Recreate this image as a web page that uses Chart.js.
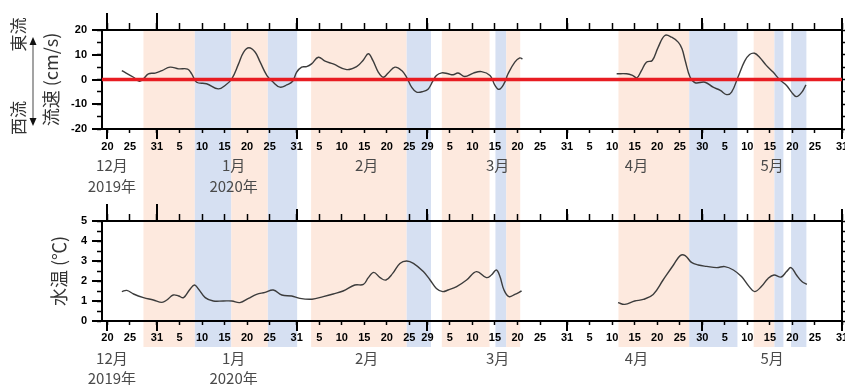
<!DOCTYPE html>
<html><head><meta charset="utf-8">
<script src="https://cdn.jsdelivr.net/npm/chart.js@4.4.1/dist/chart.umd.min.js"></script>
<style>
html,body{margin:0;padding:0;background:#fff;}
#wrap{position:relative;width:845px;height:385px;overflow:hidden;background:#fff;}
canvas{position:absolute;left:0;top:0;}
</style></head><body>
<div id="wrap"><canvas id="c1" width="845" height="385"></canvas><canvas id="c2" width="845" height="385"></canvas></div>
<script>
// x values are days counted from 2019-12-20 (day 0)
const xMin = -1.2, xMax = 163;
const tickDays   = [0,5,11,16,21,26,31,36,42,47,52,57,62,67,71,76,81,86,91,96,102,107,112,117,122,127,132,137,142,147,152,157,163];
const tickLabels = ["20","25","31","5","10","15","20","25","31","5","10","15","20","25","29","5","10","15","20","25","31","5","10","15","20","25","30","5","10","15","20","25","31"];
const monthEndDays = [0,11,42,71,102,132,163];
const monthLabelDays = [1,28,57.5,86.6,117.4,147.5];
const monthLabels = ["12月","1月","2月","3月","4月","5月"];
const yearLabels  = ["2019年","2020年","","","",""];

// shaded periods: o = warm (orange), b = cold (blue)
const bandStarts = [8.0,19.4,27.5,35.6,45.2,66.4,74.2,86.1,88.5,113.4,129.1,143.4,148.0,151.7];
const bandEnds   = [19.4,27.5,35.6,42.1,66.4,71.8,84.8,88.5,91.6,129.1,139.8,148.0,150.0,155.1];
const bandTypes  = ["o","b","o","b","o","b","o","b","o","o","b","o","b","b"];

// current velocity (cm/s)
const currentDays = [3.2,5.8,7.1,8.0,9.1,10.6,12.1,13.9,15.8,17.8,18.7,19.8,22.0,24.6,26.1,27.6,29.1,30.2,31.4,32.8,33.9,35.4,36.8,38.3,39.8,41.1,42.0,43.1,44.2,45.3,46.8,48.3,50.1,53.1,55.3,56.8,57.9,58.9,60.1,61.2,62.3,63.8,65.3,66.4,67.5,68.6,70.1,71.2,72.2,73.0,74.2,75.6,76.7,77.8,79.3,81.2,83.0,84.9,86.0,86.9,88.0,88.9,90.4,91.5,92.1,
  100,
  113.0,115.2,116.6,117.5,118.5,119.6,120.9,122.2,123.7,125.2,126.7,127.5,128.2,129.3,130.4,132.6,134.4,136.0,137.4,138.5,139.9,141.4,142.5,143.6,144.7,146.2,147.7,149.2,150.7,151.8,152.9,154.1,155.0];
const currentValues = [3.6,0.9,-0.7,0.3,2.3,2.6,3.6,5.0,4.3,4.2,2.3,-1.1,-1.7,-3.8,-2.4,0.3,6.3,11.0,12.8,11.0,7.0,1.6,-1.1,-3.1,-2.2,-0.7,3.0,5.0,5.2,6.3,9.0,7.4,6.3,4.0,5.2,7.9,10.4,7.7,3.0,0.9,2.6,5.0,3.6,0.9,-3.1,-5.1,-4.8,-3.8,-0.7,1.6,2.7,2.3,1.9,2.6,1.2,2.6,3.2,1.6,-2.4,-4.0,-1.7,2.3,7.0,8.7,8.3,
  null,
  2.3,2.3,1.6,0.7,3.6,7.0,7.7,13.0,17.8,17.1,15.0,12.4,7.7,0.9,-1.3,-1.1,-3.1,-4.4,-6.1,-5.1,0.9,7.4,10.1,10.6,9.0,5.7,3.0,-0.1,-2.4,-5.1,-6.9,-5.1,-2.2];

// water temperature (°C)
const tempDays = [3.2,4.3,5.8,8.0,10.2,12.1,13.2,14.6,15.8,16.9,18.2,19.3,20.2,21.7,23.5,25.7,27.6,29.4,31.3,33.1,35.0,36.8,38.7,40.9,42.7,45.4,47.9,50.1,52.3,54.9,56.8,57.9,59.1,60.5,61.8,63.3,64.9,66.4,67.9,70.1,71.6,73.0,74.4,75.6,77.5,79.7,81.9,84.1,85.2,86.3,87.1,88.0,89.1,90.4,91.9,
  100,
  113.3,114.8,117.0,118.9,121.1,123.3,125.6,127.1,128.2,129.6,131.1,133.0,135.2,137.0,138.9,140.7,142.4,143.6,145.1,146.6,147.9,149.5,150.7,151.7,152.9,154.1,155.2];
const tempValues = [1.47,1.53,1.35,1.17,1.05,0.93,1.05,1.30,1.25,1.17,1.55,1.80,1.60,1.17,1.00,1.00,1.00,0.92,1.13,1.33,1.43,1.55,1.30,1.25,1.13,1.09,1.22,1.35,1.50,1.80,1.83,2.17,2.43,2.17,2.05,2.38,2.88,3.00,2.88,2.47,2.05,1.63,1.47,1.55,1.72,2.05,2.47,2.17,2.30,2.55,2.22,1.55,1.22,1.33,1.50,
  null,
  0.92,0.83,1.00,1.08,1.33,2.05,2.80,3.27,3.27,2.93,2.80,2.73,2.67,2.72,2.55,2.22,1.72,1.47,1.72,2.13,2.30,2.20,2.47,2.67,2.30,1.97,1.83];

const currentTicks = [-20,-15,-10,-5,0,5,10,15,20];
const currentMajor = [-20,-10,0,10,20];
const tempTicks = [0,0.5,1,1.5,2,2.5,3,3.5,4,4.5,5];
const tempMajor = [0,1,2,3,4,5];
const zeroLineDays = [xMin, xMax];
const zeroLineValues = [0, 0];
const eastLabel = "東流", westLabel = "西流";

const pts = (xs, ys) => xs.map((x, i) => ({x: x, y: ys[i]}));
const tickFont = {family: '"Liberation Sans", Arial, sans-serif', size: 11, weight: 'bold'};
const cjk = '"Noto Sans CJK JP", "Noto Sans", sans-serif';

function xTickAxis(pad, h) {
  return {
    type: 'linear', position: 'bottom', min: xMin, max: xMax, bounds: 'data', weight: 0,
    afterBuildTicks: s => { s.ticks = tickDays.map(v => ({value: v})); },
    afterFit: s => { s.height = h; s.paddingLeft = 0; s.paddingRight = 0; },
    grid: {display: true, drawOnChartArea: false, drawTicks: true, tickLength: 4, tickWidth: 1.5, tickColor: '#000'},
    border: {display: true, color: '#000', width: 2},
    ticks: {autoSkip: false, maxRotation: 0, minRotation: 0, padding: pad, color: '#000', font: tickFont,
      callback: (v, i) => tickLabels[i]}
  };
}
function monthAxis(lh, h) {
  return {
    type: 'linear', position: 'bottom', min: xMin, max: xMax, bounds: 'data', weight: 1,
    afterBuildTicks: s => { s.ticks = monthLabelDays.map(v => ({value: v})); },
    afterFit: s => { s.height = h; s.paddingLeft = 0; s.paddingRight = 0; },
    grid: {display: false, drawTicks: false, tickLength: 0},
    border: {display: false},
    ticks: {autoSkip: false, maxRotation: 0, minRotation: 0, padding: 0, color: '#4a4a4a',
      font: {family: cjk, size: 15, lineHeight: lh},
      callback: (v, i) => yearLabels[i] ? [monthLabels[i], yearLabels[i]] : monthLabels[i]}
  };
}
function xTopAxis() {
  return {
    type: 'linear', position: 'top', min: xMin, max: xMax, bounds: 'data',
    afterBuildTicks: s => { s.ticks = tickDays.map(v => ({value: v})); },
    afterFit: s => { s.height = 7; s.paddingLeft = 0; s.paddingRight = 0; },
    grid: {display: true, drawOnChartArea: false, drawTicks: true, tickLength: 7, tickWidth: 1.5, tickColor: '#000'},
    border: {display: true, color: '#000', width: 2},
    ticks: {display: false}
  };
}
function yLeft(min, max, tks, major, title, tpad) {
  return {
    type: 'linear', position: 'left', min: min, max: max, bounds: 'data',
    afterBuildTicks: s => { s.ticks = tks.map(v => ({value: v})); },
    afterFit: s => { s.width = 62; s.paddingTop = 0; s.paddingBottom = 0; },
    grid: {display: true, drawOnChartArea: false, drawTicks: true, tickLength: 5, tickWidth: 1.5, tickColor: '#000'},
    border: {display: true, color: '#000', width: 2},
    ticks: {autoSkip: false, padding: 10, color: '#000', font: tickFont,
      callback: v => major.includes(v) ? String(v) : ''},
    title: {display: true, text: title, color: '#333', font: {family: cjk, size: 18}, padding: {top: tpad, bottom: 0}}
  };
}
function yRight(min, max, tks) {
  return {
    type: 'linear', position: 'right', min: min, max: max, bounds: 'data',
    afterBuildTicks: s => { s.ticks = tks.map(v => ({value: v})); },
    afterFit: s => { s.width = 3; s.paddingTop = 0; s.paddingBottom = 0; },
    grid: {display: true, drawOnChartArea: false, drawTicks: true, tickLength: 3, tickWidth: 1.5, tickColor: '#000'},
    border: {display: true, color: '#000', width: 2},
    ticks: {display: false}
  };
}

const bandsPlugin = {
  id: 'bands',
  beforeDraw(chart, args, o) {
    const ctx = chart.ctx, sx = chart.scales.x, a = chart.chartArea;
    ctx.save();
    bandStarts.forEach((s, i) => {
      const x1 = sx.getPixelForValue(s), x2 = sx.getPixelForValue(bandEnds[i]);
      ctx.fillStyle = bandTypes[i] === 'o' ? '#fde9de' : '#d6e0f2';
      ctx.fillRect(x1, a.top, x2 - x1, o.bottom - a.top);
    });
    ctx.restore();
  }
};
const longTicksPlugin = {
  id: 'longTicks',
  afterDraw(chart, args, o) {
    const ctx = chart.ctx, a = chart.chartArea, sx = chart.scales.x, sy = chart.scales.y;
    ctx.save();
    ctx.strokeStyle = '#000'; ctx.lineWidth = 2;
    ctx.beginPath();
    monthEndDays.forEach((d, i) => {
      const px = Math.round(sx.getPixelForValue(d));
      const up = i < 2 ? o.topLen + 5 : o.topLen;
      ctx.moveTo(px, a.top - up); ctx.lineTo(px, a.top);
      ctx.moveTo(px, a.bottom); ctx.lineTo(px, a.bottom + o.bottomLen);
    });
    o.majors.forEach(v => {
      const py = Math.round(sy.getPixelForValue(v));
      ctx.moveTo(a.left - o.yLen, py); ctx.lineTo(a.left, py);
    });
    ctx.stroke();
    ctx.restore();
  }
};
const sideLabelPlugin = {
  id: 'sideLabels',
  afterDraw(chart) {
    const ctx = chart.ctx, sy = chart.scales.y;
    ctx.save();
    ctx.font = '17px ' + cjk; ctx.fillStyle = '#333'; ctx.textAlign = 'center'; ctx.textBaseline = 'middle';
    [[eastLabel, 18.2], [westLabel, -15.6]].forEach(([t, v]) => {
      ctx.save(); ctx.translate(19, sy.getPixelForValue(v)); ctx.rotate(-Math.PI / 2); ctx.fillText(t, 0, 0); ctx.restore();
    });
    const x = 33, yTop = sy.getPixelForValue(17.2), yBot = sy.getPixelForValue(-18.8);
    ctx.strokeStyle = '#666'; ctx.lineWidth = 1.2;
    ctx.beginPath(); ctx.moveTo(x, yTop + 6); ctx.lineTo(x, yBot - 6); ctx.stroke();
    ctx.fillStyle = '#111';
    ctx.beginPath(); ctx.moveTo(x, yTop); ctx.lineTo(x - 3.5, yTop + 8); ctx.lineTo(x + 3.5, yTop + 8); ctx.closePath(); ctx.fill();
    ctx.beginPath(); ctx.moveTo(x, yBot); ctx.lineTo(x - 3.5, yBot - 8); ctx.lineTo(x + 3.5, yBot - 8); ctx.closePath(); ctx.fill();
    ctx.restore();
  }
};

const common = {
  responsive: false, animation: false, devicePixelRatio: 1,
  elements: {point: {radius: 0}}
};

new Chart(document.getElementById('c1'), {
  type: 'line',
  data: {datasets: [
    {data: pts(zeroLineDays, zeroLineValues), borderColor: 'rgb(232,28,34)', borderWidth: 3.5, tension: 0, order: 0},
    {data: pts(currentDays, currentValues), borderColor: '#3c3c3c', borderWidth: 1.4, tension: 0.4, spanGaps: false, order: 1}
  ]},
  options: Object.assign({}, common, {
    layout: {autoPadding: false, padding: {left: 40, right: 0, top: 23, bottom: 171}},
    scales: {
      x: xTickAxis(7, 25),
      xm: monthAxis(1.45, 60),
      xt: xTopAxis(),
      y: yLeft(-20, 20, currentTicks, currentMajor, '流速 (cm/s)', 0),
      yr: yRight(-20, 20, currentTicks)
    },
    plugins: {legend: {display: false}, tooltip: {enabled: false},
      bands: {bottom: 347},
      longTicks: {topLen: 12, bottomLen: 10, yLen: 10, majors: currentMajor}}
  }),
  plugins: [bandsPlugin, longTicksPlugin, sideLabelPlugin]
});

new Chart(document.getElementById('c2'), {
  type: 'line',
  data: {datasets: [
    {data: pts(tempDays, tempValues), borderColor: '#3c3c3c', borderWidth: 1.4, tension: 0.4, spanGaps: false}
  ]},
  options: Object.assign({}, common, {
    layout: {autoPadding: false, padding: {left: 40, right: 0, top: 214, bottom: 0}},
    scales: {
      x: xTickAxis(6, 27),
      xm: monthAxis(1.33, 37),
      xt: xTopAxis(),
      y: yLeft(0, 5, tempTicks, tempMajor, '水温 (℃)', 8),
      yr: yRight(0, 5, tempTicks)
    },
    plugins: {legend: {display: false}, tooltip: {enabled: false},
      longTicks: {topLen: 12, bottomLen: 10, yLen: 10, majors: tempMajor}}
  }),
  plugins: [longTicksPlugin]
});
</script>
</body></html>
